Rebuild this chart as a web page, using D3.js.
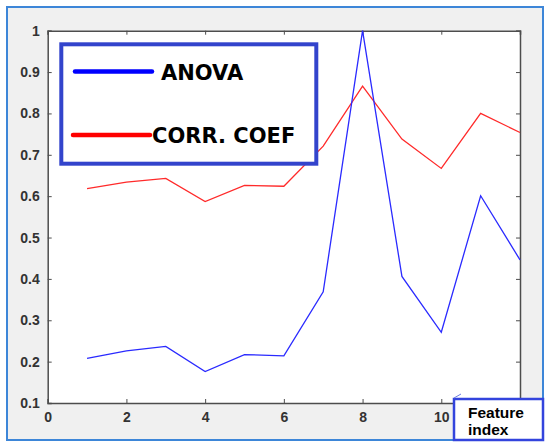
<!DOCTYPE html>
<html><head><meta charset="utf-8">
<script src="https://cdn.jsdelivr.net/npm/d3@7/dist/d3.min.js"></script>
<style>html,body{margin:0;padding:0;background:#fff;}svg{display:block;}</style>
</head><body>
<svg id="c" width="550" height="447"></svg>
<script>
const featureIdx = [1,2,3,4,5,6,7,8,9,10,11,12];
const anova = [0.208,0.226,0.237,0.176,0.217,0.214,0.369,1.0,0.406,0.271,0.601,0.446];
const corrCoef = [0.618,0.634,0.643,0.587,0.626,0.624,0.721,0.866,0.738,0.667,0.800,0.754];
const xTicks = [0,2,4,6,8,10,12];
const xTickLabels = ["0","2","4","6","8","10",""];
const yTicks = [0.1,0.2,0.3,0.4,0.5,0.6,0.7,0.8,0.9,1];
const legendLabels = ["ANOVA","CORR. COEF"];
const xLabel = ["Feature","index"];

const svg = d3.select("#c");
svg.append("rect").attr("x",7).attr("y",7).attr("width",536).attr("height",433)
  .attr("fill","#f0f0f0").attr("stroke","#3d86d8").attr("stroke-width",2);

const L=47.7,R=520,T=30.7,B=403;
const x = d3.scaleLinear().domain([0,12]).range([L,R]);
const y = d3.scaleLinear().domain([0.1,1]).range([B,T]);

svg.append("rect").attr("x",L).attr("y",T).attr("width",R-L).attr("height",B-T).attr("fill","#fff");

const font = "Liberation Sans, Arial, sans-serif";
const gx = svg.append("g").attr("transform",`translate(0,${B})`)
  .call(d3.axisBottom(x).tickValues(xTicks).tickSize(-4).tickPadding(9).tickFormat((d,i)=>xTickLabels[i]));
const gxt = svg.append("g").attr("transform",`translate(0,${T})`)
  .call(d3.axisTop(x).tickValues(xTicks).tickSize(-4).tickFormat(""));
const gy = svg.append("g").attr("transform",`translate(${L},0)`)
  .call(d3.axisLeft(y).tickValues(yTicks).tickSize(-4).tickPadding(8).tickFormat(d=>d===1?"1":d3.format(".1f")(d)));
const gyr = svg.append("g").attr("transform",`translate(${R},0)`)
  .call(d3.axisRight(y).tickValues(yTicks).tickSize(-4).tickFormat(""));
[gx,gxt,gy,gyr].forEach(g=>{
  g.selectAll("path.domain").attr("stroke","#4d4d4d").attr("stroke-width",1.5);
  g.selectAll(".tick line").attr("stroke","#4d4d4d").attr("stroke-width",1);
  g.selectAll("text").attr("fill","#333").attr("font-family",font).attr("font-size",14).attr("font-weight","bold");
});
gx.selectAll("text").attr("dy","0.71em");

const line = d3.line().x((d,i)=>x(featureIdx[i])).y(d=>y(d));
svg.append("path").datum(corrCoef).attr("d",line).attr("fill","none").attr("stroke","#ff2a2a").attr("stroke-width",1.3);
svg.append("path").datum(anova).attr("d",line).attr("fill","none").attr("stroke","#2a2aff").attr("stroke-width",1.3);

const lg = svg.append("g");
lg.append("rect").attr("x",61.3).attr("y",44.3).attr("width",255).attr("height",119.4)
  .attr("fill","#fff").attr("stroke","#3344cc").attr("stroke-width",4);
const lcol = ["#0000ff","#ff0000"];
const ly = [71.5,135];
const lx1 = [75,73], lx2=[152,150], tx=[161,152];
legendLabels.forEach((t,i)=>{
  lg.append("line").attr("x1",lx1[i]).attr("x2",lx2[i]).attr("y1",ly[i]).attr("y2",ly[i])
    .attr("stroke",lcol[i]).attr("stroke-width",4.5).attr("stroke-linecap","round");
  lg.append("text").attr("x",tx[i]).attr("y",ly[i]+8).text(t)
    .attr("font-family","DejaVu Sans, sans-serif").attr("font-weight","bold").attr("font-size",21)
    .attr("fill","#000");
});

svg.append("rect").attr("x",454).attr("y",399).attr("width",89).attr("height",41)
  .attr("fill","#fff").attr("stroke","#3344dd").attr("stroke-width",2.5);
svg.append("line").attr("x1",454).attr("y1",398).attr("x2",461).attr("y2",394).attr("stroke","#6a7be0").attr("stroke-width",1);
xLabel.forEach((t,i)=>{
  svg.append("text").attr("x",468).attr("y",418+i*17).text(t)
    .attr("font-family",font).attr("font-weight","bold").attr("font-size",15.5).attr("fill","#000");
});
</script>
</body></html>
